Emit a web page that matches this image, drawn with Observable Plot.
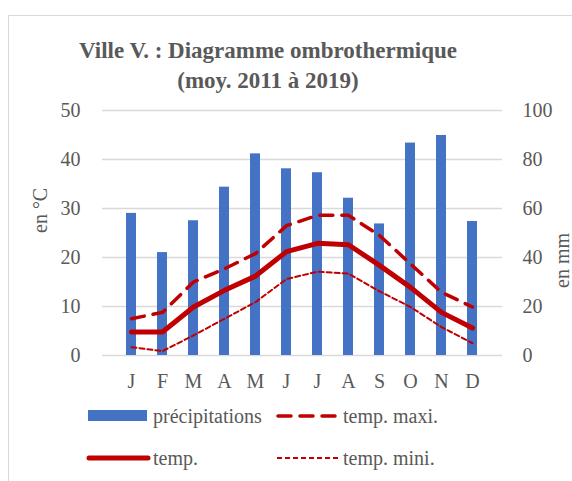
<!DOCTYPE html>
<html>
<head>
<meta charset="utf-8">
<script src="https://cdn.jsdelivr.net/npm/d3@7"></script>
<script src="https://cdn.jsdelivr.net/npm/@observablehq/plot@0.6"></script>
</head>
<body style="margin:0;background:#fff;font-family:'Liberation Serif',serif;color:#595959">
<div id="wrap" style="position:relative;width:572px;height:481px;overflow:hidden;font-family:'Liberation Serif',serif">
  <div style="position:absolute;left:8px;top:15px;width:600px;height:520px;border:1px solid #d9d9d9;box-sizing:border-box"></div>
  <div style="position:absolute;left:0;width:536px;text-align:center;font-weight:bold;font-size:23px;line-height:30px;top:36px;font-family:'Liberation Serif',serif">Ville V. : Diagramme ombrothermique</div>
  <div style="position:absolute;left:0;width:536px;text-align:center;font-weight:bold;font-size:23px;line-height:30px;top:66px;font-family:'Liberation Serif',serif">(moy. 2011 à 2019)</div>
  <div id="chart" style="position:absolute;left:0;top:95px"></div>
  <svg style="position:absolute;left:0;top:395px" width="572" height="86">
    <rect x="88" y="15" width="59" height="11" fill="#4472C4"></rect>
    <line x1="278" x2="338" y1="21" y2="21" stroke="#C00000" stroke-width="3.5" stroke-dasharray="13,9" stroke-linecap="round"></line>
    <line x1="89" x2="148" y1="63" y2="63" stroke="#C00000" stroke-width="5" stroke-linecap="round"></line>
    <line x1="277" x2="338" y1="63" y2="63" stroke="#C00000" stroke-width="2" stroke-dasharray="5,3"></line>
  </svg>
  <div style="position:absolute;font-size:20px;line-height:24px;white-space:nowrap;left:153px;top:404px;font-family:'Liberation Serif',serif">précipitations</div>
  <div style="position:absolute;font-size:20px;line-height:24px;white-space:nowrap;left:343px;top:404px;font-family:'Liberation Serif',serif">temp. maxi.</div>
  <div style="position:absolute;font-size:20px;line-height:24px;white-space:nowrap;left:153px;top:446px;font-family:'Liberation Serif',serif">temp.</div>
  <div style="position:absolute;font-size:20px;line-height:24px;white-space:nowrap;left:343px;top:446px;font-family:'Liberation Serif',serif">temp. mini.</div>
</div>
<script>
const months = ["J","F","M","A","M","J","J","A","S","O","N","D"];
const precip = [58, 42, 55, 68.7, 82.3, 76.2, 74.6, 64.2, 53.7, 86.7, 89.8, 54.7];
const temp   = [4.8, 4.8, 9.9, 13.3, 16.2, 21.2, 22.9, 22.6, 18.4, 13.9, 8.8, 5.6];
const tmax   = [7.5, 8.8, 15.0, 17.7, 20.8, 26.5, 28.6, 28.6, 24.5, 18.7, 12.9, 9.9];
const tmin   = [1.7, 0.9, 4.1, 7.5, 10.9, 15.6, 17.1, 16.7, 13.1, 9.9, 5.8, 2.5];
const leftTicks = [0, 10, 20, 30, 40, 50];
const rightTicks = [0, 20, 40, 60, 80, 100];

const data = months.map((m, i) => ({i, m, precip: precip[i], temp: temp[i], tmax: tmax[i], tmin: tmin[i]}));
const red = "#C00000";
const grey = "#595959";
const serif = "'Liberation Serif', serif";

const chart = Plot.plot({
  width: 572,
  height: 300,
  marginLeft: 102,
  marginRight: 70,
  marginTop: 15,
  marginBottom: 40,
  style: {fontFamily: serif, fontSize: "20px", color: grey, background: "transparent", overflow: "visible"},
  x: {domain: d3.range(12), padding: 0.67, label: null},
  y: {domain: [0, 50], label: null},
  marks: [
    Plot.gridY(leftTicks, {stroke: "#d9d9d9", strokeOpacity: 1, strokeWidth: 1.5}),
    Plot.barY(data, {x: "i", y: d => d.precip / 2, fill: "#4472C4"}),
    Plot.line(data, {x: "i", y: "tmin", stroke: red, strokeWidth: 2, strokeDasharray: "5,3"}),
    Plot.line(data, {x: "i", y: "tmax", stroke: red, strokeWidth: 3.5, strokeDasharray: "13,9", strokeLinecap: "round"}),
    Plot.line(data, {x: "i", y: "temp", stroke: red, strokeWidth: 5, strokeLinecap: "round", strokeLinejoin: "round"}),
    Plot.axisX({tickSize: 0, tickPadding: 18, tickFormat: i => months[i], fill: grey, fontSize: 20, label: null}),
    Plot.axisY(leftTicks, {anchor: "left", tickSize: 0, tickPadding: 22, fill: grey, fontSize: 20, label: null}),
    Plot.axisY(leftTicks, {anchor: "right", tickSize: 0, tickPadding: 20, tickFormat: d => d * 2, fill: grey, fontSize: 20, label: null}),
    Plot.text(["en °C"], {frameAnchor: "left", dx: -62, rotate: -90, fill: grey, fontSize: 20}),
    Plot.text(["en mm"], {frameAnchor: "right", dx: 60, rotate: -90, fill: grey, fontSize: 20})
  ]
});
chart.style.fontFamily = serif;
chart.querySelectorAll("text, g").forEach(el => el.setAttribute("font-family", serif));
document.getElementById("chart").appendChild(chart);
</script>
</body>
</html>
